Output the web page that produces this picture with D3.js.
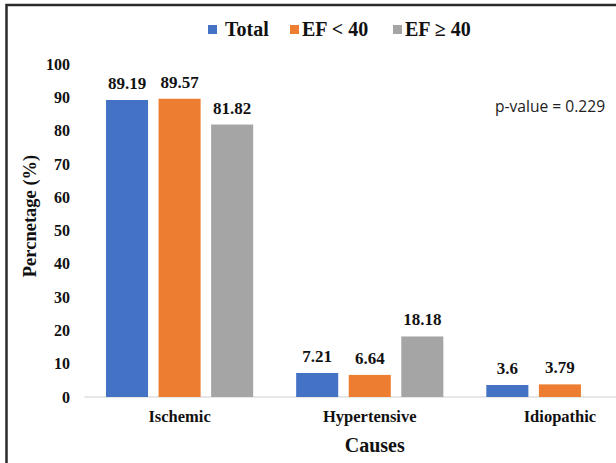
<!DOCTYPE html>
<html>
<head>
<meta charset="utf-8">
<script src="https://cdn.jsdelivr.net/npm/d3@7"></script>
<style>
  html, body { margin: 0; padding: 0; background: #fff; }
  svg { display: block; }
</style>
</head>
<body>
<svg id="chart" width="616" height="463"></svg>
<script>
// Causes of heart failure by ejection-fraction group
const categories = ["Ischemic", "Hypertensive", "Idiopathic"];
const seriesNames = ["Total", "EF < 40", "EF \u2265 40"];
const totalValues = [89.19, 7.21, 3.6];
const efLow = [89.57, 6.64, 3.79];
const efHigh = [81.82, 18.18, null];
const yTicks = [0, 10, 20, 30, 40, 50, 60, 70, 80, 90, 100];
const colors = ["#4472C4", "#ED7D31", "#A5A5A5"];

const seriesValues = [totalValues, efLow, efHigh];

const svg = d3.select("#chart");
const W = 616, H = 463;
const serif = "'Liberation Serif', 'Times New Roman', serif";

// frame (left and top edges)
svg.append("path")
  .attr("d", `M6.5,${H} L6.5,5 L${W},5`)
  .attr("fill", "none")
  .attr("stroke", "#2b2b2b")
  .attr("stroke-width", 2.5);

const plot = { left: 84.5, right: 655, top: 64, bottom: 397 };

const x0 = d3.scaleBand()
  .domain(categories)
  .range([plot.left, plot.right])
  .paddingInner(0.226)
  .paddingOuter(0.113);

const x1 = d3.scaleBand()
  .domain(seriesNames)
  .range([0, x0.bandwidth()])
  .paddingInner(0.2);

const y = d3.scaleLinear().domain([0, 100]).range([plot.bottom, plot.top]);

// y-axis tick labels
const yAxis = d3.axisLeft(y).tickValues(yTicks).tickSize(0).tickPadding(0);
const gy = svg.append("g").attr("transform", "translate(70,0)").call(yAxis);
gy.select(".domain").remove();
gy.selectAll("text")
  .attr("font-family", serif)
  .attr("font-weight", "bold")
  .attr("font-size", 16)
  .attr("fill", "#111");

// baseline
svg.append("line")
  .attr("x1", plot.left).attr("x2", W)
  .attr("y1", y(0)).attr("y2", y(0))
  .attr("stroke", "#d0d0d0").attr("stroke-width", 1.2);

// bars
const rows = [];
categories.forEach((c, ci) => {
  seriesNames.forEach((s, si) => {
    const v = seriesValues[si][ci];
    if (v != null) rows.push({ cat: c, series: s, si, value: v });
  });
});

svg.append("g").selectAll("rect")
  .data(rows)
  .join("rect")
  .attr("x", d => x0(d.cat) + x1(d.series))
  .attr("y", d => y(d.value))
  .attr("width", x1.bandwidth())
  .attr("height", d => y(0) - y(d.value))
  .attr("fill", d => colors[d.si]);

// value labels
svg.append("g").selectAll("text")
  .data(rows)
  .join("text")
  .attr("x", d => x0(d.cat) + x1(d.series) + x1.bandwidth() / 2)
  .attr("y", d => y(d.value) - 11)
  .attr("text-anchor", "middle")
  .attr("font-family", serif)
  .attr("font-weight", "bold")
  .attr("font-size", 17)
  .attr("fill", "#111")
  .text(d => d.value);

// category labels
const xAxis = d3.axisBottom(x0).tickSize(0).tickPadding(0);
const gx = svg.append("g").attr("transform", `translate(0,${y(0) + 13})`).call(xAxis);
gx.select(".domain").remove();
gx.selectAll("text")
  .attr("font-family", serif)
  .attr("font-weight", "bold")
  .attr("font-size", 16.5)
  .attr("fill", "#111");

// axis titles
svg.append("text")
  .attr("x", (plot.left + plot.right) / 2 + 5)
  .attr("y", 452)
  .attr("text-anchor", "middle")
  .attr("font-family", serif)
  .attr("font-weight", "bold")
  .attr("font-size", 20)
  .attr("fill", "#111")
  .text("Causes");

svg.append("text")
  .attr("transform", "translate(36,216) rotate(-90)")
  .attr("text-anchor", "middle")
  .attr("font-family", serif)
  .attr("font-weight", "bold")
  .attr("font-size", 18.5)
  .attr("fill", "#111")
  .text("Percnetage (%)");

// p-value annotation
svg.append("text")
  .attr("x", 495)
  .attr("y", 112)
  .attr("font-family", "'Open Sans', 'Liberation Sans', sans-serif")
  .attr("font-size", 15.6)
  .attr("fill", "#222")
  .text("p-value = 0.229");

// legend
const legendX = [208, 290, 393];
const legend = svg.append("g").selectAll("g")
  .data(seriesNames)
  .join("g")
  .attr("transform", (d, i) => `translate(${legendX[i]},0)`);
legend.append("rect")
  .attr("x", 0).attr("y", 25)
  .attr("width", 9).attr("height", 9)
  .attr("fill", (d, i) => colors[i]);
legend.append("text")
  .attr("x", (d, i) => i === 0 ? 17 : 12)
  .attr("y", 36)
  .attr("font-family", serif)
  .attr("font-weight", "bold")
  .attr("font-size", 20)
  .attr("fill", "#111")
  .text(d => d);
</script>
</body>
</html>
